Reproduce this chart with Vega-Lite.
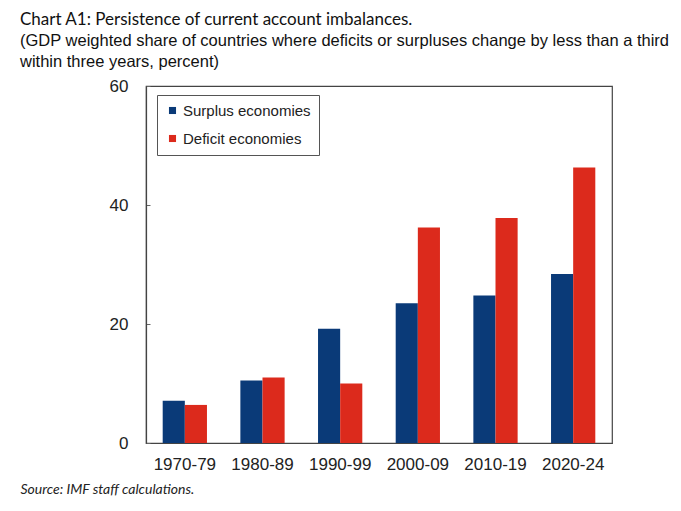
{
  "$schema": "https://vega.github.io/schema/vega-lite/v6.json",
  "width": 466,
  "height": 357,
  "padding": {"left": 20, "top": 10, "right": 5, "bottom": 5},
  "background": "white",
  "title": {
    "text": "Chart A1: Persistence of current account imbalances.",
    "subtitle": ["(GDP weighted share of countries where deficits or surpluses change by less than a third", "within three years, percent)"],
    "anchor": "start",
    "frame": "group",
    "dx": -126,
    "font": "Lato",
    "fontSize": 17,
    "fontWeight": "normal",
    "color": "#111",
    "subtitleFont": "Liberation Sans",
    "subtitleFontSize": 16.5,
    "subtitleColor": "#111",
    "subtitleLineHeight": 21,
    "subtitlePadding": 4,
    "offset": 6
  },
  "data": {
    "values": [
      {"period": "1970-79", "group": "Surplus economies", "value": 7.1},
      {"period": "1970-79", "group": "Deficit economies", "value": 6.4},
      {"period": "1980-89", "group": "Surplus economies", "value": 10.5},
      {"period": "1980-89", "group": "Deficit economies", "value": 11.0},
      {"period": "1990-99", "group": "Surplus economies", "value": 19.2},
      {"period": "1990-99", "group": "Deficit economies", "value": 10.0},
      {"period": "2000-09", "group": "Surplus economies", "value": 23.5},
      {"period": "2000-09", "group": "Deficit economies", "value": 36.2},
      {"period": "2010-19", "group": "Surplus economies", "value": 24.8},
      {"period": "2010-19", "group": "Deficit economies", "value": 37.8},
      {"period": "2020-24", "group": "Surplus economies", "value": 28.4},
      {"period": "2020-24", "group": "Deficit economies", "value": 46.3}
    ]
  },
  "mark": {"type": "bar"},
  "encoding": {
    "x": {
      "field": "period",
      "type": "nominal",
      "sort": null,
      "scale": {"paddingInner": 0.43, "paddingOuter": 0.215},
      "axis": {
        "title": "Source: IMF staff calculations.",
        "titleFont": "Lato",
        "titleFontSize": 14,
        "titleFontStyle": "italic",
        "titleFontWeight": "normal",
        "titleColor": "#222",
        "titleAnchor": "start",
        "titleAlign": "left",
        "titleBaseline": "top",
        "titleX": -126,
        "titleY": 39,
        "labelAngle": 0,
        "labelFont": "Liberation Sans",
        "labelFontSize": 17,
        "labelColor": "#222",
        "labelPadding": 13,
        "ticks": false,
        "domainColor": "#444",
        "domainWidth": 1.2
      }
    },
    "xOffset": {"field": "group", "type": "nominal", "sort": ["Surplus economies", "Deficit economies"], "scale": {"paddingInner": 0}},
    "y": {
      "field": "value",
      "type": "quantitative",
      "scale": {"domain": [0, 60], "nice": false},
      "axis": {
        "title": null,
        "values": [0, 20, 40, 60],
        "grid": false,
        "labelFont": "Liberation Sans",
        "labelFontSize": 17,
        "labelColor": "#222",
        "tickSize": -4,
        "tickColor": "#666",
        "labelPadding": 22,
        "domainColor": "#444",
        "domainWidth": 1.2
      }
    },
    "color": {
      "field": "group",
      "type": "nominal",
      "sort": ["Surplus economies", "Deficit economies"],
      "scale": {"domain": ["Surplus economies", "Deficit economies"], "range": ["#0a3a78", "#dc2a1c"]},
      "legend": {
        "title": null,
        "orient": "none",
        "legendX": 11,
        "legendY": 9,
        "symbolType": "square",
        "symbolSize": 50,
        "symbolStrokeWidth": 0,
        "labelFont": "Liberation Sans",
        "labelFontSize": 15,
        "labelColor": "#222",
        "labelOffset": 3,
        "rowPadding": 12,
        "padding": 8,
        "strokeColor": "#555",
        "fillColor": "white"
      }
    }
  },
  "config": {
    "view": {"stroke": "#444", "strokeWidth": 1.2},
    "axis": {"domain": true}
  }
}
